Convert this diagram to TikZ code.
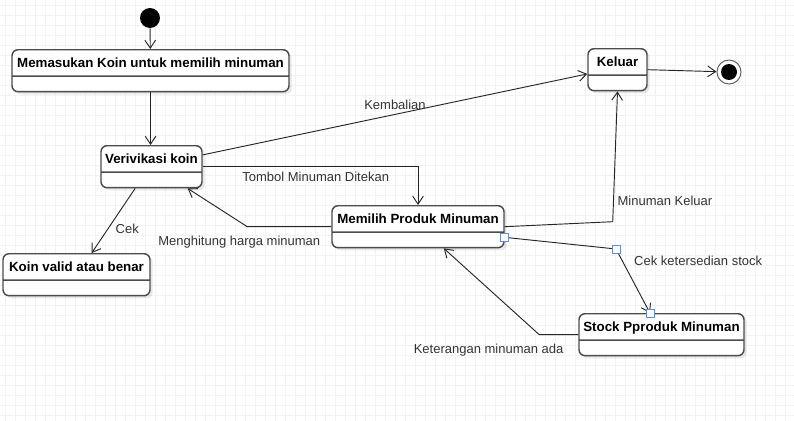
\documentclass[tikz,border=0pt]{standalone}
\usepackage{fontspec}
\setmainfont{Liberation Sans}
\usetikzlibrary{shapes.multipart, arrows.meta, shadows}

\definecolor{handleblue}{RGB}{100,140,215}
\newcommand{\toppart}{\rule[-3.75pt]{0pt}{14.75pt}}
\newcommand{\lowpart}{\rule{0pt}{6.5pt}}

\tikzset{
  state/.style={rectangle split, rectangle split parts=2, draw=black!70, line width=1.1pt,
    rounded corners=4.5pt, fill=white, inner ysep=2pt, inner xsep=3pt, anchor=north,
    font=\fontsize{10}{12}\selectfont\bfseries,
    drop shadow={opacity=0.18, shadow xshift=2pt, shadow yshift=-2pt}},
  trans/.style={draw=black!85, line width=0.7pt, -{Straight Barb[length=6pt,width=8pt]}},
  lbl/.style={font=\fontsize{9.75}{11}\selectfont, text=black!80},
  handle/.style={draw=handleblue, fill=white, minimum size=6pt, inner sep=0pt, line width=0.6pt},
  gridline/.style={black!5, line width=0.4pt}
}

\begin{document}
\begin{tikzpicture}[x=0.75pt, y=-0.75pt]
    %% background grid
    \useasboundingbox (0,0) rectangle (794,421);
    \foreach \x in {5,15,...,795}
        \draw[gridline] (\x,0) -- (\x,421);
    \foreach \y in {5,15,...,415}
        \draw[gridline] (0,\y) -- (794,\y);

    %% states
    \node[fill, circle, minimum size=15pt, inner sep=0pt] (start) at (150,18) {};
    \node[state, minimum width=207.75pt] (masuk) at (150.5,49) {\toppart Memasukan Koin untuk memilih minuman\nodepart{two}\lowpart};
    \node[state, minimum width=75.75pt] (verif) at (151.5,145) {\toppart Verivikasi koin\nodepart{two}\lowpart};
    \node[state, minimum width=110.25pt] (koin) at (76.5,253) {\toppart Koin valid atau benar\nodepart{two}\lowpart};
    \node[state, minimum width=129pt] (milih) at (418,205) {\toppart Memilih Produk Minuman\nodepart{two}\lowpart};
    \node[state, minimum width=123.75pt] (stock) at (661.5,313) {\toppart Stock Pproduk Minuman\nodepart{two}\lowpart};
    \node[state, minimum width=44.25pt] (keluar) at (617.5,48) {\toppart Keluar\nodepart{two}\lowpart};
    \node[circle, draw=black!60, line width=0.8pt, fill=white, minimum size=18pt, inner sep=0pt] (stop) at (729,72) {};
    \fill (stop) circle (6pt);

    %% transitions
    \draw[trans] (start) -- (masuk);
    \draw[trans] (masuk.south) -- (masuk.south |- verif.north);
    \draw[trans] (verif.13) -- node[lbl, above] {Kembalian} (keluar.188);
    \draw[trans] (verif.east) -| node[lbl, below, pos=0.25, xshift=4pt] {Tombol Minuman Ditekan} (milih.north);
    \draw[trans] (milih.west) -- +(-84,0) node[lbl, below, xshift=-6pt, yshift=-3pt] {Menghitung harga minuman} -- (verif.-31);
    \draw[trans] (verif.233) -- node[lbl, right, yshift=-6pt, xshift=-2pt] {Cek} (koin.55);
    \draw[trans] (milih.east) -- +(108,-5) node[lbl, above right, yshift=8pt] {Minuman Keluar} -- (keluar.south);
    \coordinate (bend) at (616,249);
    \draw[trans] (milih.-7) -- (bend) node[lbl, below right, xshift=10pt, yshift=-2pt] {Cek ketersedian stock} -- (stock.118);
    \draw[trans] (stock.west) -- +(-39,0) node[lbl, below, xshift=-38pt, yshift=-3pt] {Keterangan minuman ada} -- (milih.-40);
    \draw[trans] (keluar.east) -- (stop);

    % selection handles
    \node[handle] (ha) at (milih.-7) {};
    \node[handle] (hb) at (bend) {};
    \node[handle] (hc) at (stock.118) {};
\end{tikzpicture}
\end{document}
